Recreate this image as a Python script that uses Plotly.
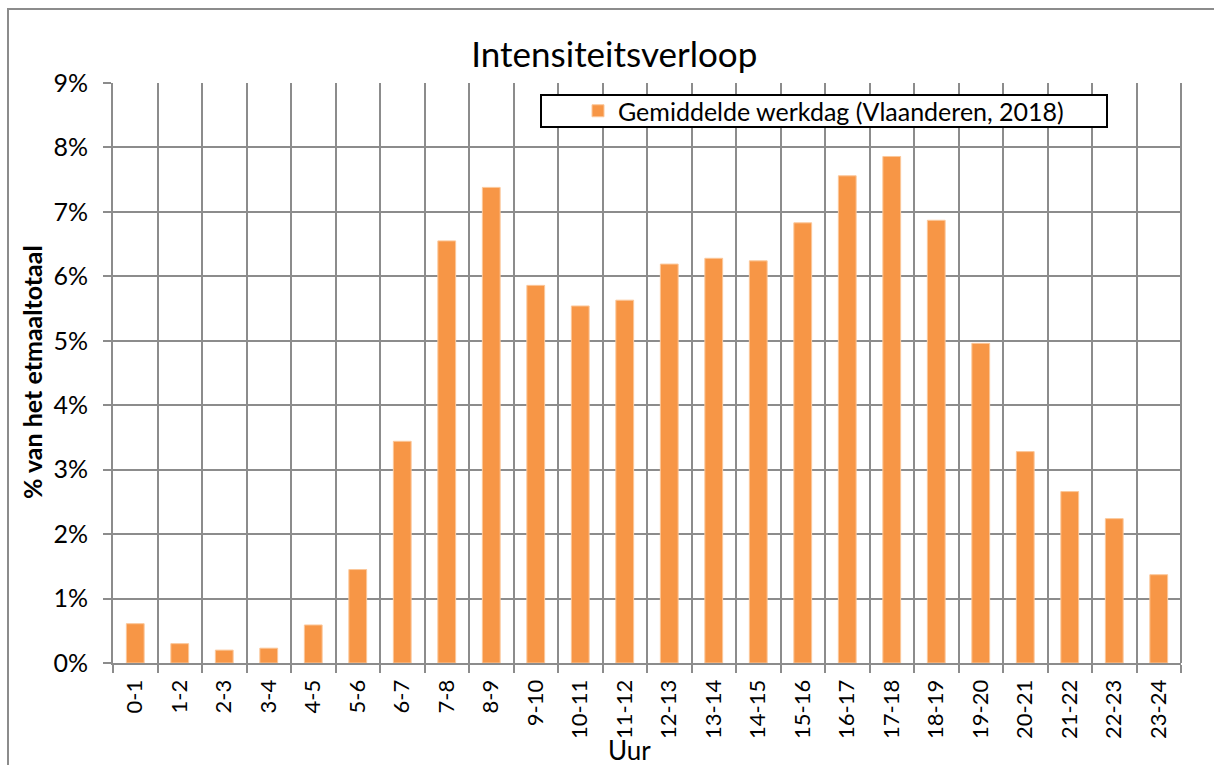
import plotly.graph_objects as go

# Hourly traffic share of the daily total (average working day, Flanders 2018)
uren = ["0-1", "1-2", "2-3", "3-4", "4-5", "5-6", "6-7", "7-8", "8-9", "9-10",
        "10-11", "11-12", "12-13", "13-14", "14-15", "15-16", "16-17", "17-18",
        "18-19", "19-20", "20-21", "21-22", "22-23", "23-24"]
aandeel = [0.61, 0.30, 0.20, 0.23, 0.59, 1.45, 3.44, 6.55, 7.38, 5.86,
           5.54, 5.63, 6.19, 6.28, 6.24, 6.83, 7.56, 7.86, 6.87, 4.96,
           3.28, 2.66, 2.24, 1.37]
y_ticks = [0, 1, 2, 3, 4, 5, 6, 7, 8, 9]
y_ticktext = [f"{v}%" for v in y_ticks]

FONT = "Lato"
GRID = "#8c8c8c"

# plot area in pixels: x 113..1181, y 83..663
L, R, T, B = 113, 1181, 83, 663
W, H = R - L, B - T


def px(x):
    return (x - L) / W


def py(y):
    return (B - y) / H


fig = go.Figure()
fig.add_trace(go.Bar(
    x=uren,
    y=aandeel,
    name="Gemiddelde werkdag (Vlaanderen, 2018)",
    marker=dict(color="#F79646", line=dict(color="#FBC79A", width=1)),
    width=0.4,
))

fig.update_layout(
    width=1214,
    height=765,
    margin=dict(l=L, r=1214 - R, t=T, b=765 - B),
    paper_bgcolor="white",
    plot_bgcolor="white",
    font=dict(family=FONT, color="black", size=25),
    title=dict(text="Intensiteitsverloop", x=0.506, xanchor="center",
               y=1 - 55 / 765, yanchor="middle", font=dict(size=35, family=FONT)),
    showlegend=True,
    legend=dict(x=px(578), xanchor="left", y=py(111), yanchor="middle",
                orientation="h", borderwidth=0, bgcolor="rgba(0,0,0,0)",
                font=dict(size=25), itemwidth=30),
    bargap=0.6,
)

fig.update_xaxes(
    type="category",
    tickson="boundaries",
    automargin=False,
    showgrid=True, gridcolor=GRID, gridwidth=2,
    showline=True, linecolor=GRID, linewidth=2,
    ticks="outside", ticklen=8, tickcolor=GRID, tickwidth=2,
    tickangle=-90, tickfont=dict(size=22), ticklabelstandoff=6,
)
fig.update_yaxes(
    range=[0, 9],
    automargin=False,
    tickvals=y_ticks, ticktext=y_ticktext,
    showgrid=True, gridcolor=GRID, gridwidth=2,
    showline=True, linecolor=GRID, linewidth=2,
    ticks="outside", ticklen=8, tickcolor=GRID, tickwidth=2,
    tickfont=dict(size=25), ticklabelstandoff=10,
    zeroline=False,
)

# Axis titles
fig.add_annotation(text="Uur", xref="paper", yref="paper", x=px(629), y=py(750),
                   xanchor="center", yanchor="middle", showarrow=False,
                   font=dict(size=26))
fig.add_annotation(text="<b>% van het etmaaltotaal</b>", xref="paper", yref="paper",
                   x=px(32), y=py(372), xanchor="center", yanchor="middle",
                   textangle=-90, showarrow=False, font=dict(size=25))

# Right-hand plot boundary line
fig.add_shape(type="line", xref="paper", yref="paper", x0=1, x1=1, y0=0, y1=1,
              line=dict(color=GRID, width=2))
# Legend frame
fig.add_shape(type="rect", xref="paper", yref="paper",
              x0=px(541), x1=px(1107), y0=py(127), y1=py(95),
              line=dict(color="black", width=2), fillcolor="white", layer="above")
# Outer chart frame
fig.add_shape(type="rect", xref="paper", yref="paper",
              x0=px(8), x1=px(1225), y0=py(800), y1=py(9),
              line=dict(color=GRID, width=2), layer="below")

fig.write_html("out.html")
